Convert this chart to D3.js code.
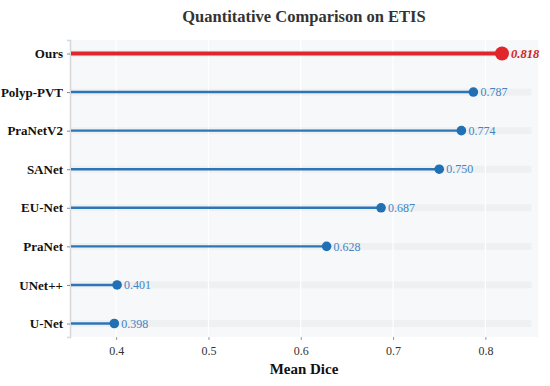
<!DOCTYPE html>
<html>
<head>
<meta charset="utf-8">
<script src="https://cdn.jsdelivr.net/npm/d3@7"></script>
<style>
  body { margin: 0; background: #fff; }
  text { font-family: "Liberation Serif", "Times New Roman", serif; }
</style>
</head>
<body>
<svg id="chart" width="550" height="386"></svg>
<script>
var models = ["Ours", "Polyp-PVT", "PraNetV2", "SANet", "EU-Net", "PraNet", "UNet++", "U-Net"]
var dice = [0.818, 0.787, 0.774, 0.750, 0.687, 0.628, 0.401, 0.398]
var ticks = [0.4, 0.5, 0.6, 0.7, 0.8]

var svg = d3.select("#chart")
var m = {left: 70, right: 12, top: 40, bottom: 49}
var W = 550, H = 386

var x = d3.scaleLinear().domain([0.35, 0.857]).range([m.left, W - m.right])
var y = d3.scalePoint().domain(models).range([m.top, H - m.bottom]).padding(0.35)

// plot background
svg.append("rect")
  .attr("x", m.left).attr("y", m.top)
  .attr("width", W - m.right - m.left).attr("height", H - m.bottom - m.top)
  .attr("fill", "#f6f8fa")

// light tracks
svg.selectAll(".track")
  .data(models)
  .enter().append("rect")
  .attr("class", "track")
  .attr("x", m.left)
  .attr("y", d => y(d) - 3.5)
  .attr("width", x(0.85) - m.left)
  .attr("height", 7)
  .attr("fill", "#eff0f2")

// vertical grid
svg.selectAll(".grid")
  .data(ticks)
  .enter().append("line")
  .attr("x1", d => x(d)).attr("x2", d => x(d))
  .attr("y1", m.top).attr("y2", H - m.bottom)
  .attr("stroke", "#fff").attr("stroke-width", 1.2)

// x axis
var xa = svg.append("g")
  .attr("transform", `translate(0,${H - m.bottom})`)
  .call(d3.axisBottom(x).tickValues(ticks).tickSize(3).tickPadding(6).tickFormat(d3.format(".1f")))
xa.select(".domain").remove()
xa.selectAll("line").attr("stroke", "#999")
xa.selectAll("text").attr("font-size", 12).attr("fill", "#333")
  .style("font-family", "Liberation Serif")

// y axis
var ya = svg.append("g")
  .attr("transform", `translate(${m.left},0)`)
  .call(d3.axisLeft(y).tickSize(3).tickPadding(4))
ya.select(".domain").attr("stroke", "#d6d8dc").attr("stroke-width", 1.5)
ya.selectAll("line").attr("stroke", "#888")
ya.selectAll("text").attr("font-size", 13).attr("font-weight", "bold").attr("fill", "#111")
  .style("font-family", "Liberation Serif")

var rows = models.map((d, i) => ({name: d, v: dice[i], best: i == 0}))

// stems
svg.selectAll(".stem")
  .data(rows)
  .enter().append("line")
  .attr("x1", m.left + 1).attr("x2", d => x(d.v))
  .attr("y1", d => y(d.name)).attr("y2", d => y(d.name))
  .attr("stroke", d => d.best ? "#e0262b" : "#2e75b6")
  .attr("stroke-width", d => d.best ? 4 : 2.4)

// dots
svg.selectAll(".dot")
  .data(rows)
  .enter().append("circle")
  .attr("cx", d => x(d.v)).attr("cy", d => y(d.name))
  .attr("r", d => d.best ? 7 : 4.8)
  .attr("fill", d => d.best ? "#e0262b" : "#1f70b5")

// value labels
svg.selectAll(".val")
  .data(rows)
  .enter().append("text")
  .attr("x", d => x(d.v) + (d.best ? 9 : 7))
  .attr("y", d => y(d.name))
  .attr("dy", "0.35em")
  .attr("font-size", d => d.best ? 12.5 : 12)
  .attr("font-weight", d => d.best ? "bold" : "normal")
  .attr("font-style", d => d.best ? "italic" : "normal")
  .attr("fill", d => d.best ? "#d01f25" : "#4285c2")
  .text(d => d.v.toFixed(3))

// title
svg.append("text")
  .attr("x", (m.left + W - m.right) / 2).attr("y", 22)
  .attr("text-anchor", "middle")
  .attr("font-size", 16.5).attr("font-weight", "bold").attr("fill", "#333")
  .text("Quantitative Comparison on ETIS")

// x label
svg.append("text")
  .attr("x", (m.left + W - m.right) / 2).attr("y", 374)
  .attr("text-anchor", "middle")
  .attr("font-size", 15).attr("font-weight", "bold").attr("fill", "#111")
  .text("Mean Dice")
</script>
</body>
</html>
